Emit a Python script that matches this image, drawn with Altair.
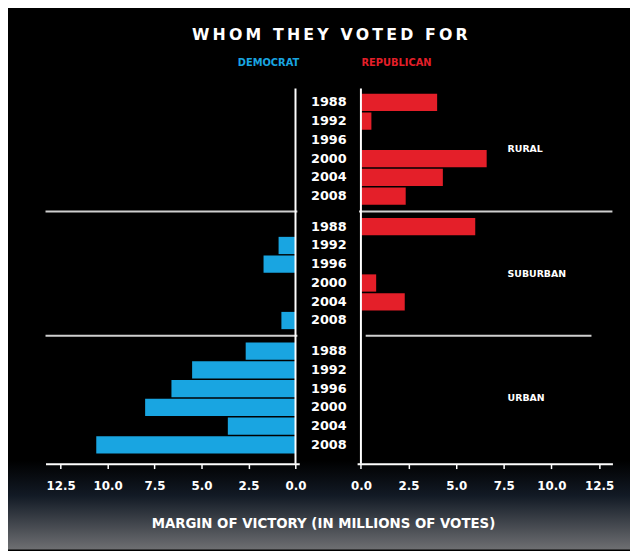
import altair as alt
import pandas as pd

# ---------------- data ----------------
years = [1988, 1992, 1996, 2000, 2004, 2008]
areas = ["RURAL", "SUBURBAN", "URBAN"]

dem_rural = [0, 0, 0, 0, 0, 0]
dem_suburban = [0, 0.9, 1.7, 0, 0, 0.75]
dem_urban = [2.65, 5.5, 6.6, 8.0, 3.6, 10.6]

rep_rural = [4.0, 0.55, 0, 6.6, 4.3, 2.35]
rep_suburban = [6.0, 0, 0, 0.8, 2.3, 0]
rep_urban = [0, 0, 0, 0, 0, 0]

tick_values = [0, 2.5, 5, 7.5, 10, 12.5]

title_text = "WHOM THEY VOTED FOR"
axis_title = "MARGIN OF VICTORY (IN MILLIONS OF VOTES)"
dem_label = "DEMOCRAT"
rep_label = "REPUBLICAN"

# ---------------- style / layout ----------------
BLUE = "#19a5e1"
RED = "#e41f29"
SEP = "#cfcfcf"
FONT = "DejaVu Sans"
GROUP_GAP = 0.63
W, H = 567, 380

rows = []
for g, (area, d, r) in enumerate(zip(areas,
                                     [dem_rural, dem_suburban, dem_urban],
                                     [rep_rural, rep_suburban, rep_urban])):
    for i, yr in enumerate(years):
        rows.append({"area": area, "year": str(yr),
                     "pos": g * (6 + GROUP_GAP) + i,
                     "dem": d[i], "rep": r[i]})
df = pd.DataFrame(rows)

groups = pd.DataFrame({"area": areas,
                       "mid": [g * (6 + GROUP_GAP) + 2.5 for g in range(len(areas))]})
seps = pd.DataFrame({"pos": [g * (6 + GROUP_GAP) - (1 + GROUP_GAP) / 2 for g in (1, 2)],
                     "lx0": [13.3, 13.3], "lx1": [-0.1, -0.1],
                     "rx0": [-0.1, 0.25], "rx1": [13.2, 12.1]})
zero = pd.DataFrame({"z": [0]})


def yscale():
    return alt.Scale(domain=[-0.74, 19.26], reverse=True, nice=False, zero=False)


def lscale():
    return alt.Scale(domain=[-0.2, 13.3], range=[257, 0], nice=False, zero=False)


def rscale():
    return alt.Scale(domain=[-0.2, 13.2], range=[315.6, 574.2], nice=False, zero=False)


axis_style = dict(
    values=tick_values, format=".1f", orient="bottom", grid=False, zindex=2,
    domainColor="white", domainWidth=2,
    tickColor="white", tickWidth=1.5, tickSize=5,
    labelColor="white", labelFont=FONT, labelFontWeight="bold", labelFontSize=12, labelPadding=12,
    titleColor="white", titleFont=FONT, titleFontWeight="bold", titleFontSize=13.5,
)
left_axis = alt.Axis(title=axis_title, titleX=281, titleY=61,
                     titleAlign="center", titleBaseline="middle", titleAngle=0, **axis_style)
right_axis = alt.Axis(title=None, **axis_style)


def Y(f):
    return alt.Y(f, type="quantitative", scale=yscale(), axis=None)


# background with gradient at the bottom
bg = alt.Chart(alt.Data(values=[{}])).mark_rect(
    fill=alt.Gradient(gradient="linear", x1=0, x2=0, y1=0, y2=1,
                      stops=[alt.GradientStop(offset=0, color="#000000"),
                             alt.GradientStop(offset=0.835, color="#000000"),
                             alt.GradientStop(offset=0.90, color="#121a25"),
                             alt.GradientStop(offset=1, color="#6e6f72")])
).encode(x=alt.value(-38), x2=alt.value(592), y=alt.value(-78), y2=alt.value(467))

# ---- left (Democrat) ----
l_bars = alt.Chart(df).transform_calculate(
    y0="datum.pos - 0.46", y1="datum.pos + 0.46"
).mark_rect(color=BLUE).encode(
    x=alt.X("dem:Q", scale=lscale(), axis=left_axis),
    x2=alt.datum(0),
    y=Y("y0"), y2="y1:Q")
l_zero = alt.Chart(zero).mark_rule(color="white", strokeWidth=2).encode(
    x=alt.X("z:Q", scale=lscale(), axis=None))
l_sep = alt.Chart(seps).mark_rule(color=SEP, strokeWidth=2).encode(
    x=alt.X("lx0:Q", scale=lscale(), axis=None), x2="lx1:Q", y=Y("pos"))

# ---- right (Republican) ----
r_bars = alt.Chart(df).transform_calculate(
    y0="datum.pos - 0.46", y1="datum.pos + 0.46"
).mark_rect(color=RED).encode(
    x=alt.X("rep:Q", scale=rscale(), axis=right_axis),
    x2=alt.datum(0),
    y=Y("y0"), y2="y1:Q")
r_zero = alt.Chart(zero).mark_rule(color="white", strokeWidth=2).encode(
    x=alt.X("z:Q", scale=rscale(), axis=None))
r_sep = alt.Chart(seps).mark_rule(color=SEP, strokeWidth=2).encode(
    x=alt.X("rx0:Q", scale=rscale(), axis=None), x2="rx1:Q", y=Y("pos"))

# ---- texts ----
year_text = alt.Chart(df).mark_text(
    font=FONT, fontWeight="bold", fontSize=13, color="white", align="center", baseline="middle"
).encode(x=alt.value(287), y=Y("pos"), text="year:N")

area_text = alt.Chart(groups).mark_text(
    font=FONT, fontWeight="bold", fontSize=9.5, color="white", align="left", baseline="middle"
).encode(x=alt.value(468), y=Y("mid"), text="area:N")

spaced_title = "\u2009".join(title_text).replace("\u2009 \u2009", "\u2009 \u2009")
title_mark = alt.Chart(alt.Data(values=[{}])).mark_text(
    font=FONT, fontWeight="bold", fontSize=16, color="white", align="center", baseline="middle",
    text=spaced_title
).encode(x=alt.value(288), y=alt.value(-54))

dem_mark = alt.Chart(alt.Data(values=[{}])).mark_text(
    font=FONT, fontWeight="bold", fontSize=10, color=BLUE, align="right", baseline="middle",
    text=dem_label
).encode(x=alt.value(257), y=alt.value(-26))
rep_mark = alt.Chart(alt.Data(values=[{}])).mark_text(
    font=FONT, fontWeight="bold", fontSize=10, color=RED, align="left", baseline="middle",
    text=rep_label
).encode(x=alt.value(320), y=alt.value(-26))

chart = alt.layer(
    bg, l_bars, l_sep, l_zero, r_bars, r_sep, r_zero,
    year_text, area_text, title_mark, dem_mark, rep_mark
).resolve_scale(x="independent").resolve_axis(x="independent").properties(
    width=W, height=H,
    autosize=alt.AutoSizeParams(type="none"),
    padding={"left": 38, "top": 78, "right": 25, "bottom": 87},
    background="#000000",
).configure_view(strokeWidth=0)

chart.save("out.html", embed_options={"renderer": "svg", "actions": False})
